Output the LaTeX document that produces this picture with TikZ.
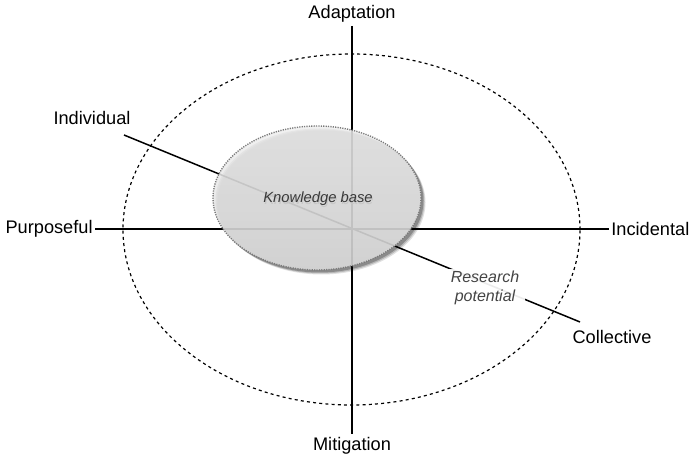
\documentclass[tikz,border=0pt]{standalone}
\usepackage{fontspec}
\setmainfont{Liberation Sans}
\usetikzlibrary{calc}
\definecolor{axisgray}{HTML}{444444}
\definecolor{kbfill}{HTML}{DEDEDE}
\definecolor{kbtop}{HTML}{EEEEEE}
\definecolor{kbedge}{HTML}{7A7A7A}
\tikzset{
  axislabel/.style={font=\fontsize{9.1}{11}\selectfont, inner sep=1.5pt},
  axisline/.style={draw=black, line width=0.75pt},
  outerring/.style={draw=black, line width=0.6pt, dash pattern=on 1.5pt off 1.6pt},
  kbnote/.style={font=\fontsize{7.4}{9}\selectfont\itshape, text=axisgray},
}
\begin{document}
\begin{tikzpicture}[x=0.5pt,y=-0.5pt]
  \useasboundingbox (0,0) rectangle (689,458);

  % outer dashed boundary
  \draw[outerring] (351.5,229.5) ellipse [x radius=114.25pt, y radius=87.75pt];

  % axis labels
  \node[axislabel] (adapt) at (352,14) {Adaptation};
  \node[axislabel] (mitig) at (352,446) {Mitigation};
  \node[axislabel, anchor=east, inner xsep=1pt] (purp) at (95,229) {Purposeful};
  \node[axislabel, anchor=west, inner xsep=1pt] (incid) at (609,229) {Incidental};
  \node[axislabel] (indiv) at (92,118) {Individual};
  \node[axislabel] (coll) at (612,337) {Collective};

  % free ends of the diagonal axis
  \coordinate (indend) at (124,135);
  \coordinate (colend) at (580,322);

  % axes
  \draw[axisline] (adapt.south) -- (mitig.north);
  \draw[axisline] (purp.east) -- (incid.west);
  \draw[axisline] (indend) -- (colend);

  % soft shadow of the knowledge base
  \foreach \o/\a in {4.5/0.12, 3.5/0.18, 2.5/0.25} {
    \fill[black, opacity=\a] (317+\o,198+\o) ellipse [x radius=52pt, y radius=36pt];
  }
  % knowledge base
  \path[top color=kbtop, bottom color=kbfill, fill opacity=0.85]
    (317,198) ellipse [x radius=52pt, y radius=36pt];
  \draw[kbedge, line width=0.7pt, dash pattern=on 0.6pt off 0.6pt]
    (317,198) ellipse [x radius=52pt, y radius=36pt];
  \node[kbnote, text=black!22] (kbshadow) at (319,200.5) {Knowledge base};
  \node[kbnote, text=black!78] (kb) at (318,199) {Knowledge base};

  % label on the diagonal axis
  \node[kbnote, font=\fontsize{8}{9.2}\selectfont\itshape, align=center,
        fill=white, fill opacity=0.92, text opacity=1, inner xsep=3pt, inner ysep=1pt]
        (rp) at (485,288) {Research\\potential};
\end{tikzpicture}
\end{document}
